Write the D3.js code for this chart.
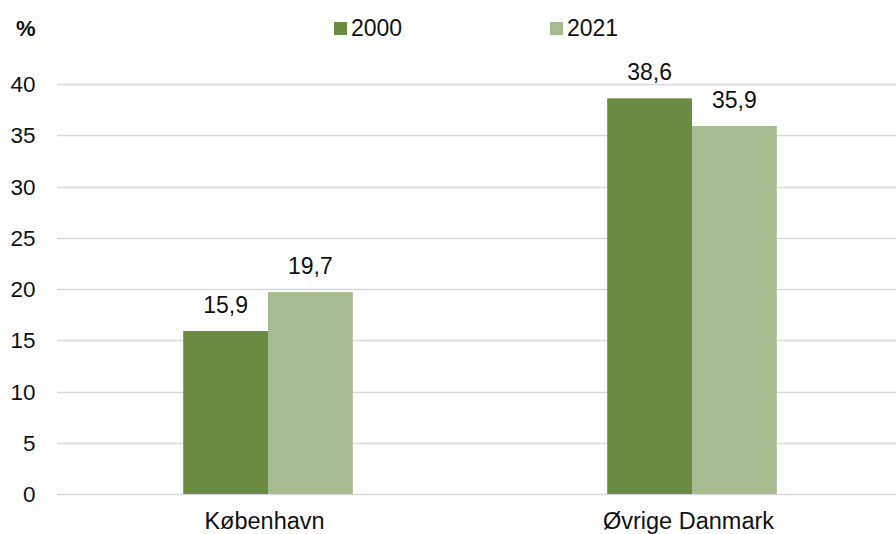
<!DOCTYPE html>
<meta charset="utf-8">
<style>
  body { margin: 0; background: #fff; }
  svg { display: block; font-family: Arial, "Liberation Sans", sans-serif; }
</style>
<svg width="896" height="534"></svg>
<script src="https://d3js.org/d3.v7.min.js"></script>
<script>

// data
var regions = ["København", "Øvrige Danmark"];
var years = ["2000", "2021"];
var values2000 = [15.9, 38.6];
var values2021 = [19.7, 35.9];
var yTicks = [0, 5, 10, 15, 20, 25, 30, 35, 40];
var colors = ["#6b8b42", "#a6bb8f"];

var svg = d3.select("svg"),
    width = +svg.attr("width"),
    height = +svg.attr("height");

var series = [values2000, values2021];
var rows = [];
regions.forEach(function(r, i) {
  years.forEach(function(yr, j) {
    rows.push({ region: r, year: yr, value: series[j][i], color: colors[j] });
  });
});

// plot area (chart is a bit wider than the window, like the original)
// note: "top" is taken by window.top, so use other names
var plotLeft = 56, plotRight = 904, plotTop = 84, plotBottom = 494;

var x = d3.scaleBand().domain(regions).range([plotLeft, plotRight]);
var xi = d3.scaleBand().domain(years)
    .range([0, x.bandwidth()]).paddingOuter(1.5).paddingInner(0);
var y = d3.scaleLinear().domain([0, 40]).range([plotBottom, plotTop]);

// gridlines
svg.append("g").selectAll("line")
  .data(yTicks)
  .enter().append("line")
    .attr("x1", 57).attr("x2", width)
    .attr("y1", function(d) { return Math.round(y(d)) + 0.5; })
    .attr("y2", function(d) { return Math.round(y(d)) + 0.5; })
    .attr("stroke", "#d9d9d9").attr("stroke-width", 1.3);

// y tick labels
svg.append("g").selectAll("text")
  .data(yTicks)
  .enter().append("text")
    .attr("x", 35.5).attr("y", function(d) { return y(d); })
    .attr("dy", "0.36em")
    .attr("text-anchor", "end")
    .attr("font-size", 22.5).attr("fill", "#111")
    .text(function(d) { return d; });

// bars
svg.append("g").selectAll("rect")
  .data(rows)
  .enter().append("rect")
    .attr("x", function(d) { return x(d.region) + xi(d.year); })
    .attr("y", function(d) { return y(d.value); })
    .attr("width", xi.bandwidth())
    .attr("height", function(d) { return plotBottom - y(d.value); })
    .attr("fill", function(d) { return d.color; });

// value labels
var fmt = function(v) { return d3.format(".1f")(v).replace(".", ","); };
svg.append("g").selectAll("text")
  .data(rows)
  .enter().append("text")
    .attr("x", function(d) { return x(d.region) + xi(d.year) + xi.bandwidth() / 2; })
    .attr("y", function(d) { return y(d.value) - 18; })
    .attr("text-anchor", "middle")
    .attr("font-size", 23).attr("fill", "#111")
    .text(function(d) { return fmt(d.value); });

// category labels (sit a few px left of the bar centre in the original)
svg.append("g").selectAll("text")
  .data(regions)
  .enter().append("text")
    .attr("x", function(d) { return x(d) + x.bandwidth() / 2 - 3.5; })
    .attr("y", 529)
    .attr("text-anchor", "middle")
    .attr("font-size", 23.5).attr("fill", "#111")
    .text(function(d) { return d; });

// unit
svg.append("text")
  .attr("x", 16).attr("y", 36)
  .attr("font-size", 22).attr("font-weight", "bold").attr("fill", "#111")
  .text("%");

// legend
var legendX = [334, 550];
var legend = svg.append("g").selectAll("g")
  .data(years)
  .enter().append("g")
    .attr("transform", function(d, i) { return "translate(" + legendX[i] + ",22)"; });
legend.append("rect")
  .attr("width", 13).attr("height", 13)
  .attr("fill", function(d, i) { return colors[i]; });
legend.append("text")
  .attr("x", 17).attr("y", 14)
  .attr("font-size", 23).attr("fill", "#111")
  .text(function(d) { return d; });

</script>
